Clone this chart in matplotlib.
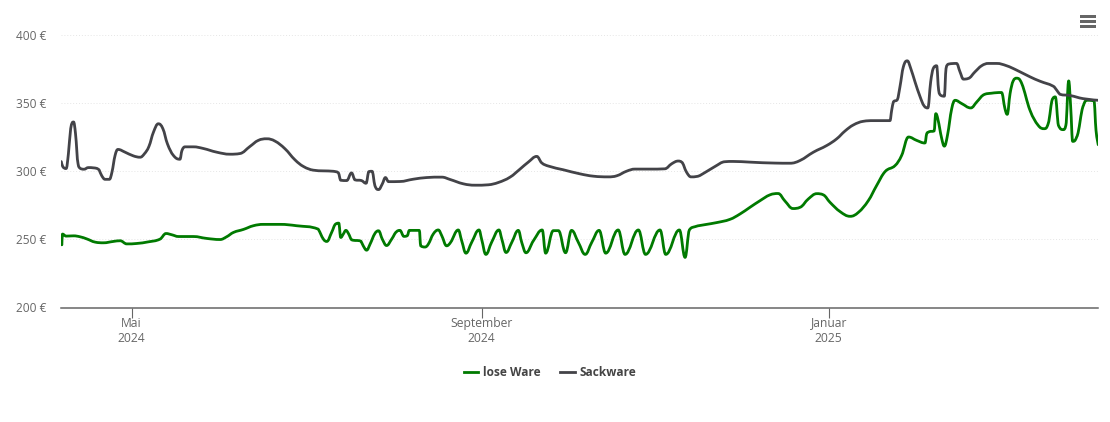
import matplotlib
matplotlib.use("Agg")
import matplotlib.pyplot as plt
import numpy as np
from matplotlib.lines import Line2D
from matplotlib.patches import PathPatch, Rectangle
from matplotlib.path import Path

plt.rcParams["font.family"] = ["Open Sans", "DejaVu Sans"]

# x values are days since 1 May 2024, y values are euro
sack_days = [
    -24.7, -24.2, -23.0, -22.2, -21.4, -20.4, -19.7, -18.8, -18.1, -16.7, -15.2, -13.4, -11.4, -10.5,
    -9.3, -7.8, -6.9, -5.8, -4.8, -2.3, 0.6, 3.0, 4.5, 6.1, 7.7, 9.4, 11.0, 12.6, 14.7, 17.0, 17.7,
    18.8, 21.7, 25.2, 29.9, 34.6, 38.1, 41.6, 44.5, 47.5, 50.4, 53.9, 57.4, 60.4, 63.9, 67.4, 70.9,
    72.7, 73.5, 75.6, 77.3, 78.5, 80.8, 82.4, 83.4, 84.5, 85.5, 86.8, 88.1, 89.2, 90.3, 94.3,
    99.0, 103.7, 109.0, 111.9, 116.6, 120.7, 125.4, 128.9, 133.0, 136.5, 139.4, 142.4, 144.1, 146.5,
    151.7, 157.6, 162.3, 167.5, 170.5, 174.0, 176.9, 182.2, 187.4, 189.8, 192.1, 193.3, 195.0, 196.6,
    198.6, 201.5, 205.0, 208.5, 211.4, 217.3, 226.1, 231.4,
    234.9, 239.6, 244.3, 247.8, 250.7, 253.6, 257.1, 260.7, 266.5, 267.1, 267.7, 269.1, 270.0, 271.2,
    272.6, 273.8, 275.3, 277.1, 278.5, 279.8, 280.8, 281.7, 282.9, 283.6, 284.3, 285.6, 286.2, 287.0,
    289.9, 291.1, 292.3, 294.0, 296.4, 298.7, 301.1, 304.0, 307.5, 311.0, 315.7, 319.2, 323.9, 325.1,
    326.2, 329.8, 334.4, 339.7,
]
sack_price = [
    306.9, 303.3, 301.8, 312.6, 331.0, 335.9, 327.3, 305.2, 302.0, 301.3, 302.5, 302.3, 300.8, 296.6,
    293.9, 293.9, 299.1, 311.4, 315.8, 313.8, 311.1, 310.1, 312.6, 318.0, 328.5, 334.6, 331.0, 319.9,
    311.4, 308.6, 315.0, 317.7, 317.7, 316.5, 313.8, 312.3, 312.8, 318.0, 322.4, 323.6, 321.9, 316.3,
    308.2, 303.3, 300.6, 300.1, 299.8, 298.6, 293.2, 293.0, 298.6, 293.5, 293.0, 291.0, 299.6, 299.8,
    289.3, 286.4, 290.5, 295.2, 292.2, 292.3,
    294.0, 295.2, 295.5, 293.8, 290.6, 289.6, 289.9, 291.6, 295.5, 301.4, 306.5, 310.7, 306.0, 303.6,
    300.9, 297.9, 296.2, 295.7, 296.5, 299.9, 301.4, 301.4, 301.6, 305.3, 307.3, 306.5, 299.2, 295.7,
    296.0, 298.9, 303.3, 306.8, 307.0, 306.5, 305.8, 305.7,
    307.7, 313.8, 318.7, 323.6, 329.3, 333.7, 336.4, 336.9, 336.9, 344.5, 350.6, 352.3, 361.6, 376.3,
    380.7, 375.1, 365.3, 354.3, 347.7, 346.2, 365.3, 375.1, 377.1, 359.2, 355.5, 354.8, 375.1, 378.3,
    378.8, 372.7, 367.3, 367.8, 372.7, 377.1, 378.8, 378.8, 377.1, 373.9, 369.0, 365.8, 362.1, 359.2,
    356.2, 355.3, 353.0, 351.8,
]
loose_days = [
    -24.5, -24.3, -23.0, -20.4, -18.1, -15.8, -12.8, -9.9, -6.4, -4.0, -1.7, 1.8, 5.9, 10.0, 12.1, 14.1,
    16.5, 21.7, 26.4, 31.1, 33.4, 35.8, 39.3, 42.8, 46.3, 52.2, 58.0, 65.6, 67.4, 68.6, 70.3, 71.7, 72.8,
    73.5, 74.4, 75.3, 76.2, 77.3, 80.6, 81.4, 82.6, 83.8, 85.5, 86.8, 88.1, 89.6, 91.4, 93.1, 94.3,
    95.7, 96.9, 97.6, 101.1, 101.6, 103.1, 104.3, 106.0, 107.8, 109.0, 110.7, 112.1, 114.8, 116.0, 117.5,
    119.5, 122.1, 123.0, 124.5, 126.5, 129.1, 130.1, 131.6, 133.6, 135.9, 137.1, 138.6, 141.2, 144.3,
    145.5, 148.2, 150.0, 152.5, 154.6, 157.0, 159.4, 161.7, 164.3, 166.6, 171.0, 173.4, 178.1, 180.6,
    185.7, 187.7, 192.5, 194.5, 196.0, 198.0, 201.5, 205.6, 210.3, 213.8, 217.3,
    220.8, 224.3, 227.2, 229.6, 232.4,
    234.9, 237.8, 240.8, 243.1, 245.4, 249.0, 252.5, 255.4, 258.9, 261.8, 264.8, 268.3, 270.6, 273.0,
    275.9, 278.8, 279.4, 280.3, 282.0, 282.6, 283.3, 284.7, 285.6, 286.7, 288.2, 289.4, 291.7, 294.9,
    297.0, 299.3, 302.2, 305.7, 306.9, 307.7, 308.7, 309.8, 311.0, 312.8, 315.7, 318.6, 320.7, 322.1,
    323.7, 324.6, 325.7, 327.4, 328.3, 329.3, 330.0, 330.7, 332.1, 334.5, 335.9, 338.2, 338.9, 339.7,
]
loose_price = [
    245.9, 253.8, 252.3, 252.5, 251.8, 250.3, 247.9, 247.4, 248.4, 248.9, 246.6, 246.9, 248.1, 250.1, 254.2, 253.3,
    252.0, 252.0, 250.6, 249.8, 251.8, 255.0, 257.2, 259.9, 260.9, 260.9, 259.9, 257.4, 250.1, 248.4, 255.0, 261.1, 261.8,
    251.3, 253.8, 256.5, 254.2, 249.6, 248.6, 245.2, 242.0, 246.4, 254.2, 256.2, 250.1, 245.4, 250.1, 255.5, 256.5,
    252.1, 252.6, 256.5, 256.5, 245.2, 244.3, 246.5, 253.8, 256.8, 252.6, 245.2, 247.7, 256.8, 248.9, 239.8,
    247.7, 256.8, 250.1, 238.9, 247.7, 256.8, 250.1, 240.3, 247.7, 256.5, 247.7, 240.1, 248.9, 256.8,
    239.8, 256.3, 256.3, 240.1, 256.5, 247.7, 238.9, 247.7, 256.5, 239.8, 256.8, 238.9, 256.8, 238.9,
    256.8, 238.9, 256.8, 236.7, 256.8, 259.2, 260.7, 262.2, 264.6, 268.5, 273.4,
    278.2, 282.5, 283.5, 278.0, 272.5,
    273.4, 279.5, 283.4, 282.5, 277.1, 270.2, 266.8, 269.7, 278.3, 289.3, 299.6, 304.0, 311.4, 324.9,
    322.4, 320.5, 327.3, 328.8, 329.3, 342.0, 338.3, 323.6, 318.2, 326.1, 345.7, 351.8, 349.4, 346.2,
    350.6, 355.7, 357.0, 357.5, 345.7, 341.5, 356.7, 366.0, 368.0, 364.1, 344.5, 333.4, 331.0, 334.7,
    353.0, 354.3, 333.4, 330.3, 333.4, 366.0, 346.9, 321.7, 324.9, 348.1, 351.8, 351.3, 329.8, 319.2,
]

x_ticks = [0, 123, 245]
x_labels = ["Mai\n2024", "September\n2024", "Januar\n2025"]
y_ticks = [200, 250, 300, 350, 400]
y_labels = ["200 €", "250 €", "300 €", "350 €", "400 €"]


def spline_path(xs, ys, smoothing=1.5):
    """Bezier path through the points, same control points as a Highcharts spline."""
    denom = smoothing + 1
    n = len(xs)
    left = [None] * n
    right = [None] * n
    for i in range(n):
        x, y = xs[i], ys[i]
        if i == 0 or i == n - 1:
            left[i] = right[i] = (x, y)
            continue
        lx, ly = xs[i - 1], ys[i - 1]
        nx, ny = xs[i + 1], ys[i + 1]
        lcx = (smoothing * x + lx) / denom
        lcy = (smoothing * y + ly) / denom
        rcx = (smoothing * x + nx) / denom
        rcy = (smoothing * y + ny) / denom
        corr = (rcy - lcy) * (rcx - x) / (rcx - lcx) + y - rcy
        lcy += corr
        rcy += corr
        # keep the curve from overshooting its neighbours
        if lcy > ly and lcy > y:
            lcy = max(ly, y)
            rcy = 2 * y - lcy
        elif lcy < ly and lcy < y:
            lcy = min(ly, y)
            rcy = 2 * y - lcy
        if rcy > ny and rcy > y:
            rcy = max(ny, y)
            lcy = 2 * y - rcy
        elif rcy < ny and rcy < y:
            rcy = min(ny, y)
            lcy = 2 * y - rcy
        left[i] = (lcx, lcy)
        right[i] = (rcx, rcy)

    verts = [(xs[0], ys[0])]
    codes = [Path.MOVETO]
    for i in range(1, n):
        verts += [right[i - 1], left[i], (xs[i], ys[i])]
        codes += [Path.CURVE4] * 3
    return Path(np.array(verts), codes)


W, H = 1110, 422
fig = plt.figure(figsize=(W / 100, H / 100), dpi=100)
ax = fig.add_axes([61 / W, 1 - 307.5 / H, 1037 / W, 273 / H])

green = "#007a00"
grey = "#434348"

for days, price, color in [(loose_days, loose_price, green), (sack_days, sack_price, grey)]:
    patch = PathPatch(spline_path(days, price), fill=False, edgecolor=color, linewidth=2.0,
                      capstyle="round", joinstyle="round", zorder=3)
    ax.add_patch(patch)

ax.set_xlim(-24.8, 339.6)
ax.set_ylim(200, 400)

for s in ["top", "left", "right"]:
    ax.spines[s].set_visible(False)
ax.spines["bottom"].set_color("#666666")
ax.spines["bottom"].set_linewidth(1.1)

ax.set_yticks(y_ticks, y_labels)
ax.set_xticks(x_ticks, x_labels)
ax.tick_params(axis="y", length=0, pad=10.4, labelsize=8.6, labelcolor="#666666")
ax.tick_params(axis="x", length=7.5, width=0.8, color="#666666", pad=-1, labelsize=8.7, labelcolor="#666666")
ax.grid(axis="y", color="#e6e6e6", linewidth=0.7, linestyle=(0, (1, 2)))
ax.set_axisbelow(True)

handles = [Line2D([], [], color=green, linewidth=2.0), Line2D([], [], color=grey, linewidth=2.0)]
fig.legend(handles, ["lose Ware", "Sackware"], loc="center", bbox_to_anchor=(550 / W, 1 - 373 / H),
           ncols=2, frameon=False, handlelength=1.25, handletextpad=0.4, columnspacing=1.6,
           prop={"size": 8.6, "weight": "bold"}, labelcolor="#444444")

# menu button, top right
for y in [15, 20.5, 25.5]:
    fig.add_artist(Rectangle((1080 / W, 1 - (y + 2.5) / H), 16 / W, 2.8 / H, transform=fig.transFigure,
                             facecolor="#666666", edgecolor="none"))

fig.savefig("out.png", dpi=100)
